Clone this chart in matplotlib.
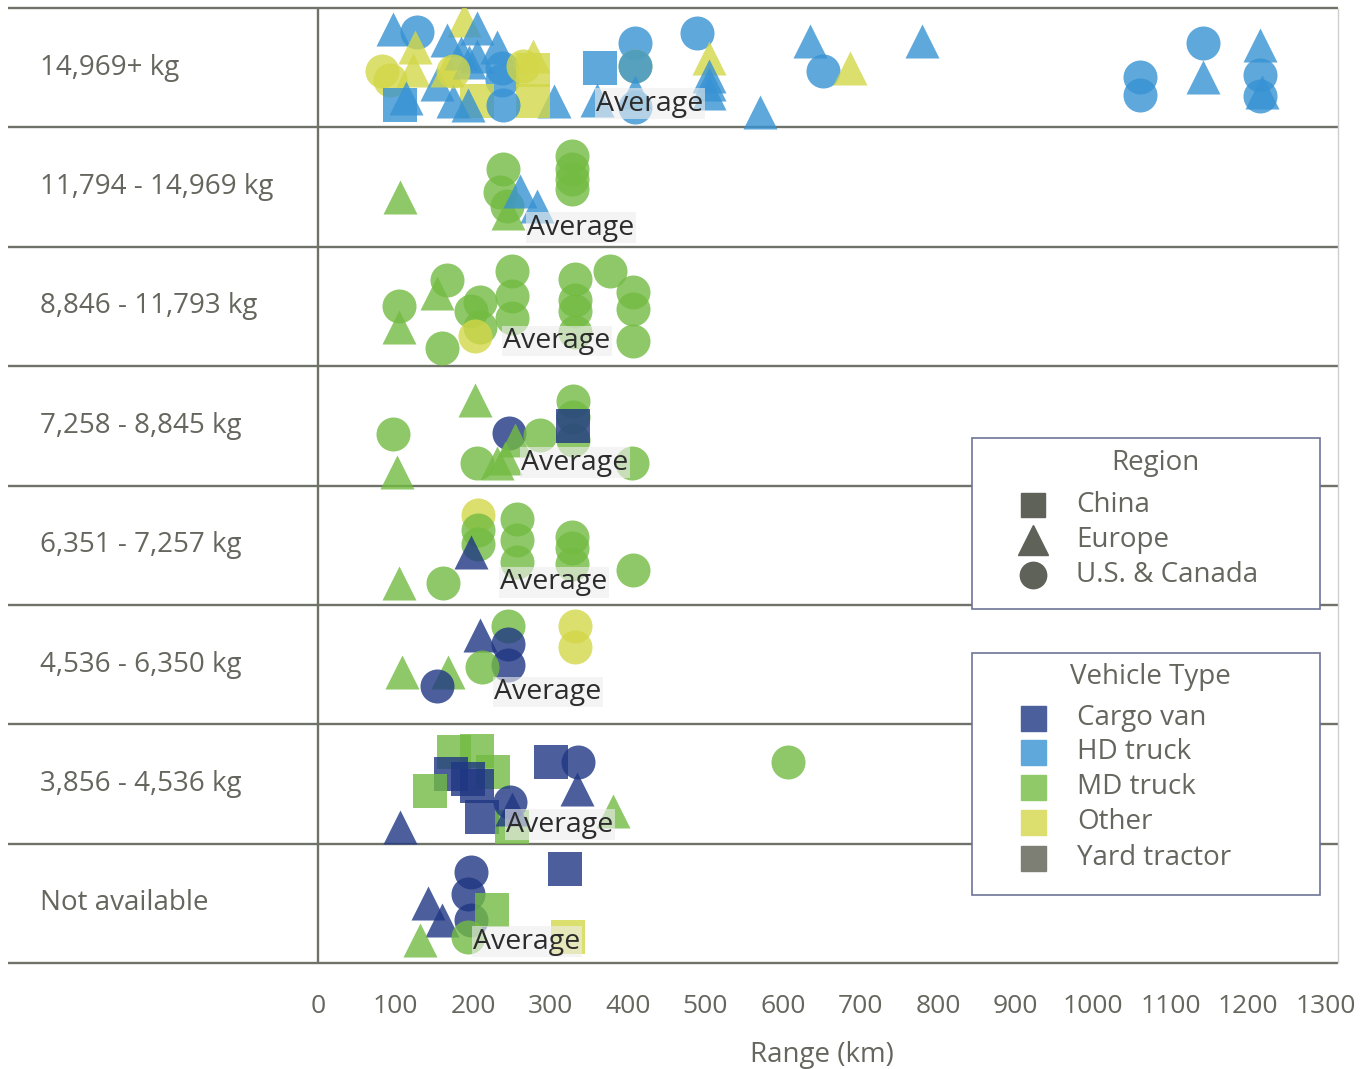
import matplotlib
matplotlib.use("Agg")
import matplotlib.pyplot as plt
from matplotlib.lines import Line2D
from matplotlib.patches import Rectangle

plt.rcParams['font.family'] = ['Open Sans', 'DejaVu Sans']

# ---- data ----
weight_classes = ["14,969+ kg", "11,794 - 14,969 kg", "8,846 - 11,793 kg", "7,258 - 8,845 kg",
                  "6,351 - 7,257 kg", "4,536 - 6,350 kg", "3,856 - 4,536 kg", "Not available"]

# one entry per vehicle: weight class row, range (km), position inside the band (0 bottom - 1 top),
# vehicle type code, region code
row_idx = ([0] * 54 + [1] * 11 + [2] * 20 + [3] * 14 + [4] * 13 + [5] * 10 + [6] * 17 + [7] * 10)
range_km = [
    # 14,969+ kg
    97, 128, 125, 82, 93, 123, 114, 106, 153, 167, 188, 205, 167, 184, 195, 205, 231, 237, 237, 264,
    277, 277, 205, 174, 193, 304, 277, 239, 174, 364, 360, 409, 409, 409, 409, 409, 489, 504, 504, 504,
    504, 570, 635, 651, 687, 779, 1060, 1060, 1142, 1142, 1215, 1215, 1215, 1218,
    # 11,794 - 14,969 kg
    106, 239, 235, 244, 245, 260, 283, 328, 328, 328, 328,
    # 8,846 - 11,793 kg
    104, 104, 153, 166, 160, 209, 197, 209, 203, 250, 250, 250, 332, 332, 332, 332, 377, 407, 407, 407,
    # 7,258 - 8,845 kg
    203, 97, 102, 246, 254, 241, 231, 205, 287, 329, 329, 329, 329, 405,
    # 6,351 - 7,257 kg
    207, 207, 207, 197, 105, 161, 257, 257, 257, 328, 328, 328, 407,
    # 4,536 - 6,350 kg
    245, 209, 245, 245, 212, 109, 168, 153, 332, 332,
    # 3,856 - 4,536 kg
    176, 205, 172, 144, 226, 205, 212, 250, 248, 250, 300, 336, 334, 380, 106, 607, 193,
    # Not available
    197, 194, 197, 142, 160, 132, 193, 225, 319, 323,
]
band_pos = [
    0.82, 0.80, 0.67, 0.47, 0.40, 0.48, 0.25, 0.19, 0.36, 0.48, 0.90, 0.83, 0.73, 0.62, 0.55, 0.60, 0.67, 0.50, 0.40, 0.51,
    0.48, 0.60, 0.22, 0.22, 0.19, 0.22, 0.22, 0.19, 0.47, 0.50, 0.23, 0.71, 0.51, 0.51, 0.30, 0.17, 0.79, 0.58, 0.43, 0.36,
    0.29, 0.13, 0.72, 0.47, 0.50, 0.72, 0.42, 0.27, 0.71, 0.42, 0.69, 0.44, 0.26, 0.30,
    0.42, 0.65, 0.46, 0.34, 0.28, 0.47, 0.34, 0.76, 0.65, 0.57, 0.48,
    0.50, 0.33, 0.61, 0.72, 0.15, 0.54, 0.46, 0.33, 0.25, 0.80, 0.59, 0.40, 0.73, 0.55, 0.46, 0.29, 0.80, 0.62, 0.48, 0.21,
    0.72, 0.43, 0.11, 0.44, 0.38, 0.23, 0.19, 0.19, 0.42, 0.71, 0.57, 0.38, 0.50, 0.19,
    0.75, 0.63, 0.51, 0.44, 0.18, 0.18, 0.72, 0.54, 0.36, 0.57, 0.48, 0.34, 0.29,
    0.82, 0.75, 0.67, 0.50, 0.48, 0.44, 0.44, 0.32, 0.82, 0.65,
    0.77, 0.78, 0.58, 0.44, 0.60, 0.48, 0.22, 0.14, 0.35, 0.29, 0.68, 0.68, 0.46, 0.27, 0.14, 0.68, 0.54,
    0.76, 0.58, 0.36, 0.50, 0.36, 0.19, 0.22, 0.44, 0.79, 0.22,
]
vehicle_type = (
    "HHOOOOHHHOOHHHHHHHHOOOOHHHOHOHHHOHHHHOHHHHHHOHHHHHHHHH"
    "MMMMMHHMMMM"
    "MMMMMMMMOMMMMMMMMMMM"
    "MMMCMMMMMMMMCM"
    "OMMCMMMMMMMMM"
    "MCCCMMMCOO"
    "MMCMMCCMCCCCCMCMC"
    "CCCCCMMMCO"
)
region = (
    "EUEUUEEGEEEEEEEEEUUUGEGEEEGUUGEUUUEUUEEEEEEUEEUUUEEUUE"
    "EUUUEEEUUUU"
    "UEEUUUUUUUUUUUUUUUUU"
    "EUEUEEEUUUUUGU"
    "UUUEEUUUUUUUU"
    "UEUUUEEUUU"
    "GGGGGGGGUEGUEEEUG"
    "UUUEEEUGGG"
)
avg_label_km = [359, 270, 239, 262, 235, 227, 243, 200]
avg_label_pos = [0.20, 0.16, 0.21, 0.19, 0.19, 0.27, 0.16, 0.18]

type_names = {"C": "Cargo van", "H": "HD truck", "M": "MD truck", "O": "Other", "Y": "Yard tractor"}
region_names = {"G": "China", "E": "Europe", "U": "U.S. & Canada"}

# ---- style ----
point_colors = {"C": "#1f3784", "H": "#3792d3", "M": "#73bb42", "O": "#d3d748", "Y": "#6a6c62"}
swatch_colors = {"C": "#4c5f9d", "H": "#5ea8dc", "M": "#8fc968", "O": "#dcdf6d", "Y": "#7d7f75"}
region_markers = {"G": "s", "E": "^", "U": "o"}
line_col = "#6f7268"
text_col = "#65675e"

W, H = 1372, 1069
fig = plt.figure(figsize=(W / 100, H / 100), dpi=100)
ax = fig.add_axes([318 / W, 1 - 963 / H, (1325.5 - 318) / W, (963 - 8) / H])
ax.set_xlim(0, 1300)
ax.set_ylim(0, 8)
for s in ax.spines.values():
    s.set_visible(False)
ax.set_yticks([])
ax.set_xticks(range(0, 1400, 100))
ax.tick_params(axis="x", length=0, pad=22, labelsize=19, labelcolor=text_col)
ax.set_xlabel("Range (km)", fontsize=20, color=text_col, labelpad=16)

# grid of the table
ax.hlines(range(9), -400, 1316, colors=line_col, lw=1.7, clip_on=False, zorder=1)
ax.vlines(0, 0, 8, colors=line_col, lw=1.7, clip_on=False, zorder=1)
ax.vlines(1316, 0, 8, colors="#cfcfcf", lw=1, clip_on=False, zorder=1)

for k, name in enumerate(weight_classes):
    ax.text(-359, 7.5 - k, name, fontsize=20, color=text_col, va="center", ha="left")

for i in range(len(range_km)):
    y = 7 - row_idx[i] + band_pos[i]
    ax.scatter(range_km[i], y, s=600, marker=region_markers[region[i]],
               color=point_colors[vehicle_type[i]], alpha=0.8, linewidths=0, zorder=3)

for k in range(len(weight_classes)):
    ax.text(avg_label_km[k], 7 - k + avg_label_pos[k], "Average", fontsize=20.5, color="#2b2b2b",
            va="center", ha="left", zorder=5,
            bbox=dict(boxstyle="square,pad=0.05", facecolor="#eeeeee", alpha=0.6, edgecolor="none"))


# ---- legends drawn in figure pixels ----
def fx(x):
    return x / W


def fy(y):
    return 1 - y / H


def legend_box(x0, y0, x1, y1, title, title_x, title_y):
    fig.add_artist(Rectangle((fx(x0), fy(y1)), fx(x1) - fx(x0), fy(y0) - fy(y1), transform=fig.transFigure,
                             facecolor="white", edgecolor="#6e7596", lw=1.2, zorder=10))
    fig.text(fx(title_x), fy(title_y), title, fontsize=20, color=text_col, ha="center", va="center", zorder=11)


legend_box(972, 438, 1320, 609, "Region", 1155, 463)
for code, yy in zip(["G", "E", "U"], [505, 540, 575]):
    ms = {"s": 17, "^": 21, "o": 19}[region_markers[code]]
    fig.add_artist(Line2D([fx(1033)], [fy(yy)], marker=region_markers[code], ms=ms, color="#5e6258",
                          lw=0, transform=fig.transFigure, zorder=11))
    fig.text(fx(1076), fy(yy), region_names[code], fontsize=20, color=text_col, va="center", zorder=11)

legend_box(972, 653, 1320, 895, "Vehicle Type", 1150, 677)
for code, yy in zip(["C", "H", "M", "O", "Y"], [718, 752, 787, 822, 858]):
    fig.add_artist(Line2D([fx(1033)], [fy(yy)], marker="s", ms=18, color=swatch_colors[code],
                          lw=0, transform=fig.transFigure, zorder=11))
    fig.text(fx(1077), fy(yy), type_names[code], fontsize=20, color=text_col, va="center", zorder=11)

fig.savefig("out.png", dpi=100)
